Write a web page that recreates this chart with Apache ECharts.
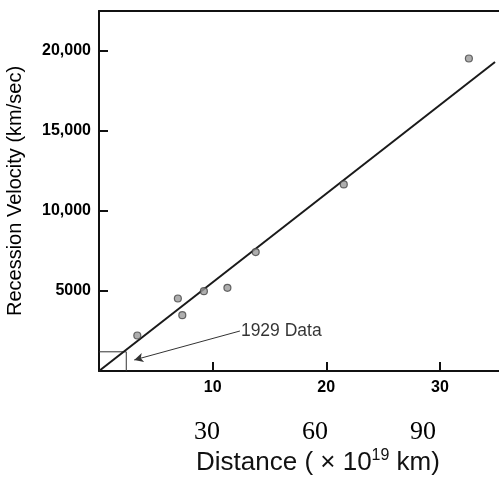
<!DOCTYPE html>
<html>
<head>
<meta charset="utf-8">
<script src="https://cdn.jsdelivr.net/npm/echarts@6/dist/echarts.min.js"></script>
<style>
html,body{margin:0;padding:0;background:#fff;}
#main{width:499px;height:479px;}
</style>
</head>
<body>
<div id="main"></div>
<script>
// galaxy measurements (distance x10^19 km, velocity km/sec)
var distX = [3.37, 6.94, 7.33, 9.23, 11.3, 13.79, 21.54, 32.55];
var velY = [2220, 4530, 3490, 4990, 5200, 7430, 11660, 19530];
// fitted line
var fitX = [0, 34.85];
var fitY = [0, 19310];
// 1929 data box + arrow (tail, head)
var boxX = [0, 2.4, 2.4];
var boxY = [1200, 1200, 0];
var arrowX = [12.4, 3.1];
var arrowY = [2500, 690];
var mpcTicks = [30, 60, 90];

function zip(a, b){
    return a.map(function(v, i){ return [v, b[i]]; });
}

var myChart = echarts.init(document.getElementById('main'));
var fontSans = 'Liberation Sans, Arial, sans-serif';
var option = {
    animation: false,
    backgroundColor: '#fff',
    grid: {left: 99, top: 11, right: 0, bottom: 108, outerBoundsMode: 'none', containLabel: false},
    title: {
        text: '{a|Distance ( × 10}{s|19}{a| km)}',
        left: 191, top: 443,
        textStyle: {
            rich: {
                a: {fontFamily: fontSans, fontSize: 26, lineHeight: 30, color: '#111', fontWeight: 'normal'},
                s: {fontFamily: fontSans, fontSize: 16, lineHeight: 16, color: '#111', fontWeight: 'normal', verticalAlign: 'top'}
            }
        }
    },
    xAxis: [{
        type: 'value', min: 0, max: 35.2, interval: 10,
        axisLine: {lineStyle: {color: '#111', width: 2}},
        axisTick: {inside: true, length: 9, lineStyle: {color: '#111', width: 2}},
        splitLine: {show: false},
        axisLabel: {
            color: '#000', fontSize: 16, fontWeight: 'bold', fontFamily: fontSans, margin: 9,
            showMinLabel: false, showMaxLabel: false
        }
    }, {
        type: 'value', min: 0, max: 111.1, interval: 30, position: 'bottom', offset: 48,
        axisLine: {show: false}, axisTick: {show: false}, splitLine: {show: false},
        axisLabel: {
            color: '#000', fontSize: 26, fontFamily: 'Liberation Serif, Times New Roman, serif', margin: 0,
            formatter: function(v){ return mpcTicks.indexOf(v) >= 0 ? v : ''; }
        }
    }, {
        type: 'value', min: 0, max: 35.2, position: 'top',
        axisLine: {lineStyle: {color: '#111', width: 2}},
        axisTick: {show: false}, axisLabel: {show: false}, splitLine: {show: false}
    }],
    yAxis: {
        type: 'value', min: 0, max: 22500, interval: 5000,
        name: 'Recession Velocity (km/sec)',
        nameLocation: 'middle', nameRotate: 90, nameGap: 74,
        nameTextStyle: {color: '#000', fontSize: 20, fontFamily: fontSans},
        axisLine: {show: true, lineStyle: {color: '#111', width: 2}},
        axisTick: {show: true, inside: true, length: 9, lineStyle: {color: '#111', width: 2}},
        splitLine: {show: false},
        axisLabel: {
            color: '#000', fontSize: 16, fontWeight: 'bold', fontFamily: fontSans, margin: 8,
            showMinLabel: false, showMaxLabel: false,
            formatter: function(v){
                return v >= 10000 ? echarts.format.addCommas(v) : String(v);
            }
        }
    },
    series: [{
        type: 'line', data: zip(fitX, fitY), symbol: 'none',
        lineStyle: {color: '#1a1a1a', width: 2}, z: 3
    }, {
        type: 'line', data: zip(boxX, boxY), symbol: 'none',
        lineStyle: {color: '#333', width: 1}, z: 2,
        markLine: {
            silent: true,
            symbol: ['none', 'arrow'], symbolSize: [7, 9],
            lineStyle: {color: '#333', width: 1, type: 'solid'},
            label: {show: false},
            data: [[{coord: [arrowX[0], arrowY[0]]}, {coord: [arrowX[1], arrowY[1]]}]]
        }
    }, {
        type: 'scatter', data: [[arrowX[0], arrowY[0]]], symbolSize: 0,
        label: {
            show: true, position: 'right', distance: 1,
            formatter: '1929 Data',
            color: '#000', fontSize: 17.5, fontFamily: fontSans
        },
        z: 2
    }, {
        type: 'scatter', data: zip(distX, velY), symbol: 'circle', symbolSize: 7,
        itemStyle: {color: '#9a9a9a', borderColor: '#444', borderWidth: 1.2}, z: 4
    }]
};
myChart.setOption(option);
</script>
</body>
</html>
